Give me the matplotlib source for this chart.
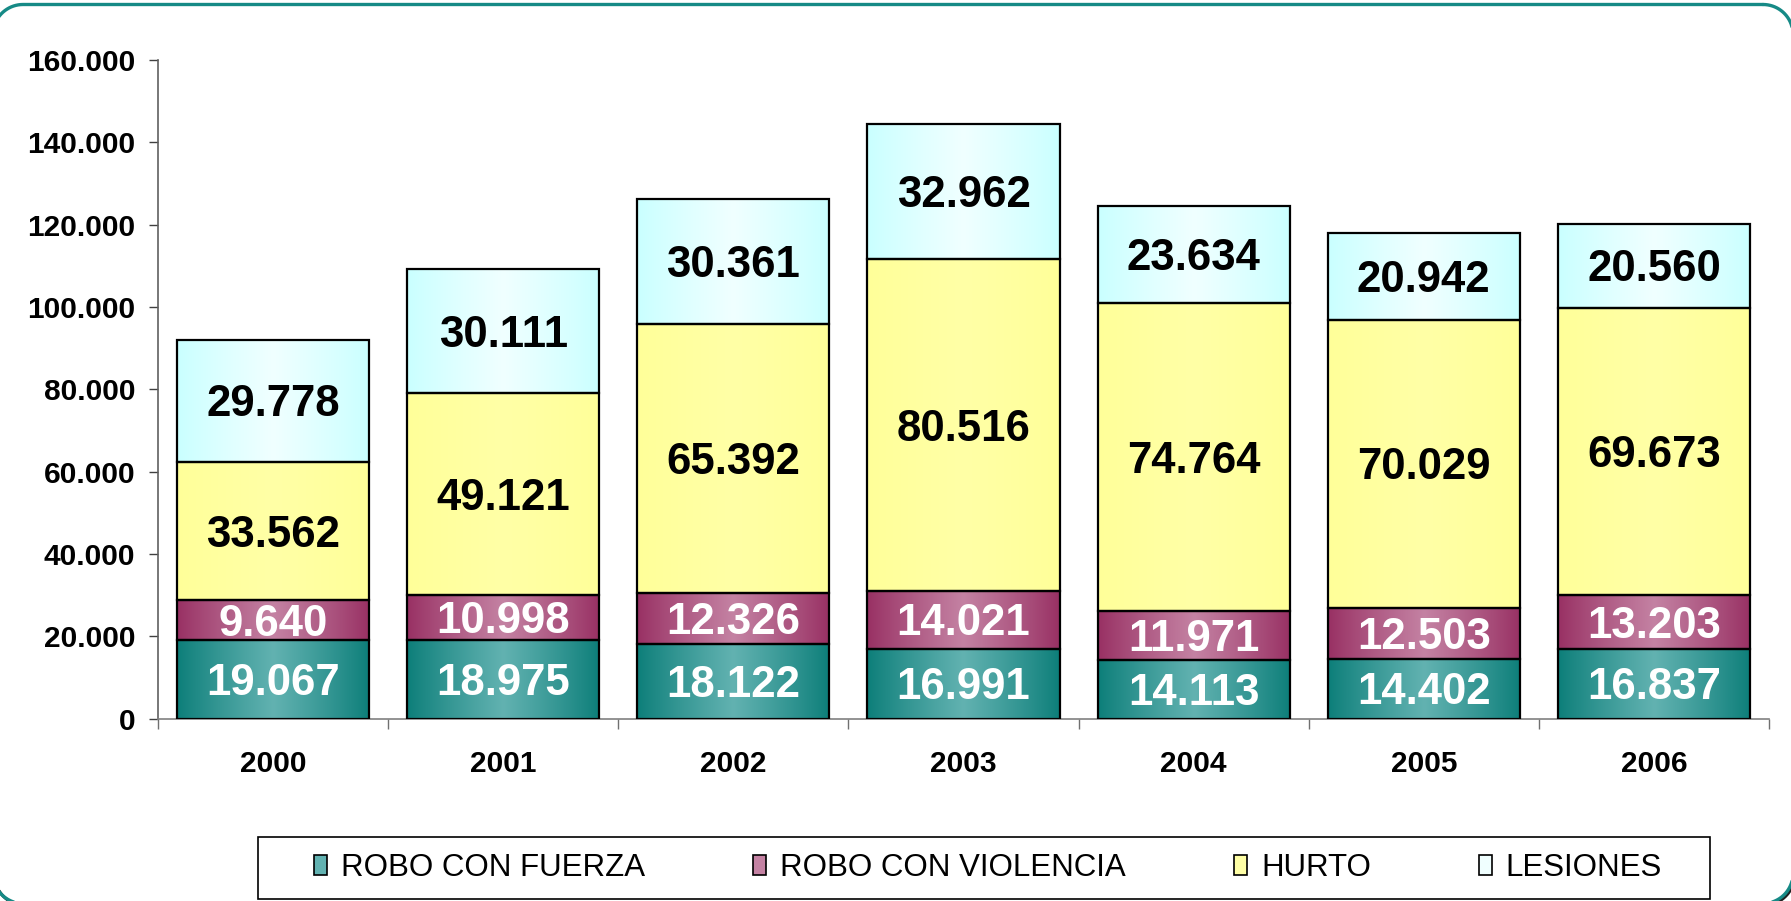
import numpy as np
import matplotlib
matplotlib.use("Agg")
import matplotlib.pyplot as plt
from matplotlib.patches import Rectangle, Patch
from matplotlib.colors import to_rgb

plt.rcParams['font.family'] = ['Liberation Sans', 'DejaVu Sans']

years = ['2000', '2001', '2002', '2003', '2004', '2005', '2006']
robo_fuerza = [19067, 18975, 18122, 16991, 14113, 14402, 16837]
robo_violencia = [9640, 10998, 12326, 14021, 11971, 12503, 13203]
hurto = [33562, 49121, 65392, 80516, 74764, 70029, 69673]
lesiones = [29778, 30111, 30361, 32962, 23634, 20942, 20560]

series = [
    ('ROBO CON FUERZA', robo_fuerza, '#0C7E79', '#62B2B1', 'white'),
    ('ROBO CON VIOLENCIA', robo_violencia, '#983063', '#C482A3', 'white'),
    ('HURTO', hurto, '#FFFF99', '#FFFFA6', 'black'),
    ('LESIONES', lesiones, '#C9FFFF', '#F0FFFF', 'black'),
]

W, H, DPI = 1791, 901, 100
fig = plt.figure(figsize=(W / DPI, H / DPI), dpi=DPI)

# background overlay axes in pixel coordinates (origin top-left)
bg = fig.add_axes([0, 0, 1, 1], zorder=-1)
bg.set_xlim(0, W)
bg.set_ylim(H, 0)
bg.axis('off')


def rounded_rect(x0, y0, x1, y1, r, n=40):
    pts = []
    corners = [((x1 - r, y0 + r), -90, 0), ((x1 - r, y1 - r), 0, 90),
               ((x0 + r, y1 - r), 90, 180), ((x0 + r, y0 + r), 180, 270)]
    for (cx, cy), a0, a1 in corners:
        a = np.deg2rad(np.linspace(a0, a1, n))
        pts.append(np.column_stack([cx + r * np.cos(a), cy + r * np.sin(a)]))
    pts = np.vstack(pts + [pts[0][:1]])
    return pts[:, 0], pts[:, 1]


bx, by = rounded_rect(-7, 4.5, 1793, 903.5, 30)
sx = np.where(by > 450, bx + 1.5, np.nan)
sy = np.where(by > 450, by + 1.5, np.nan)
bg.plot(sx, sy, color='#202020', lw=2.2, clip_on=False, solid_capstyle='round')
bg.plot(bx, by, color='#168A86', lw=2.4, clip_on=False, solid_capstyle='round')
bg.add_patch(Rectangle((258, 837), 1710 - 258, 899 - 837, facecolor='white',
                       edgecolor='black', linewidth=1.2))

ax = fig.add_axes([158 / W, 1 - 718.5 / H, (1769 - 158) / W, (718.5 - 60) / H])

x = np.arange(len(years))
bottom = np.zeros(len(years))
bar_w = 0.835


def grad_img(edge, center, n=200):
    e = np.array(to_rgb(edge))
    c = np.array(to_rgb(center))
    t = np.linspace(-1, 1, n)
    w = (1 - np.abs(t)) ** 0.9
    img = e[None, :] * (1 - w[:, None]) + c[None, :] * w[:, None]
    return img[None, :, :]


handles = []
for name, vals, edge, center, tcol in series:
    vals = np.array(vals, dtype=float)
    bars = ax.bar(x, vals, bar_w, bottom=bottom, facecolor='none',
                  edgecolor='black', linewidth=1.6, zorder=3)
    img = grad_img(edge, center)
    for p in bars.patches:
        x0, y0 = p.get_x(), p.get_y()
        im = ax.imshow(img, extent=(x0, x0 + p.get_width(), y0, y0 + p.get_height()),
                       aspect='auto', interpolation='bilinear', zorder=2)
        im.set_clip_path(p)
    for xi, b, v in zip(x, bottom, vals):
        lab = f"{int(v):,}".replace(',', '.')
        ax.annotate(lab, (xi, b + v / 2), xytext=(0, -2.9), textcoords='offset points',
                    ha='center', va='center', fontsize=31.5,
                    fontweight='bold', color=tcol, zorder=4)
    bottom = bottom + vals
    handles.append(Patch(facecolor=center, edgecolor='black', linewidth=1.2, label=name))

ax.set_xlim(-0.5, len(years) - 0.5)
ax.set_ylim(0, 160000)

yt = np.arange(0, 160001, 20000)
ax.set_yticks(yt)
ax.set_yticklabels(['0' if v == 0 else f"{v:,}".replace(',', '.') for v in yt],
                   fontsize=21.5, fontweight='bold')
ax.set_xticks(x)
ax.set_xticklabels(years, fontsize=21.5, fontweight='bold')
ax.set_xticks(np.arange(-0.5, len(years)), minor=True)
ax.tick_params(axis='x', which='major', length=0, pad=23)
ax.tick_params(axis='x', which='minor', length=7, width=1, color='#707070', direction='out')
ax.tick_params(axis='y', length=6.5, width=1, color='#404040', pad=10)

for s in ['top', 'right']:
    ax.spines[s].set_visible(False)
ax.spines['left'].set_color('#606060')
ax.spines['bottom'].set_color('#808080')
ax.spines['left'].set_linewidth(1.2)
ax.spines['bottom'].set_linewidth(1.2)
ax.set_facecolor('none')

leg = fig.legend(handles=handles, loc='center', bbox_to_anchor=(988 / W, 1 - 868 / H),
                 ncol=4, frameon=False, fontsize=22.5, handlelength=0.42, handleheight=0.6,
                 handletextpad=0.45, columnspacing=3.45)
leg.set_zorder(5)

fig.savefig('out.png', dpi=DPI)
